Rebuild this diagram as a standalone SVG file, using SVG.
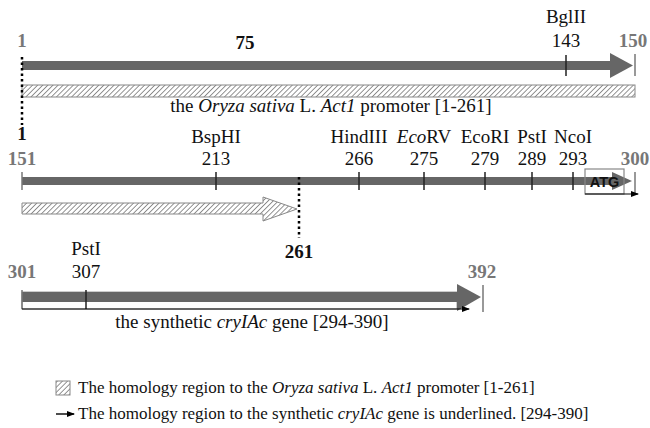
<svg xmlns="http://www.w3.org/2000/svg" width="650" height="428" viewBox="0 0 650 428">
<defs>
<pattern id="hatch" patternUnits="userSpaceOnUse" width="3.6" height="3.6" patternTransform="rotate(45)">
<rect width="3.6" height="3.6" fill="#fff"/>
<line x1="0" y1="0" x2="0" y2="3.6" stroke="#666" stroke-width="1.4"/>
</pattern>
<marker id="ah" markerWidth="8" markerHeight="6" refX="7" refY="3" orient="auto" markerUnits="userSpaceOnUse">
<path d="M0,0 L8,3 L0,6 Z" fill="#000"/>
</marker>
</defs>
<style>
text{font-family:"Liberation Serif","Times New Roman",serif;font-size:19px;fill:#111}
.c{text-anchor:middle}
.g{fill:#777;font-weight:bold}
.b{font-weight:bold}
.bar{fill:#666}
.tick{stroke:#222;stroke-width:1.5}
.gtick{stroke:#777;stroke-width:1.5}
.hat{fill:url(#hatch);stroke:#888;stroke-width:1}
.dot{stroke:#000;stroke-width:2.5;stroke-dasharray:2.5 3}
.leg{font-size:17px}
</style>
<rect width="650" height="428" fill="#fff"/>

<g id="row1">
<rect class="hat" x="22" y="85" width="613" height="12"/>
<rect class="bar" x="22" y="61" width="590" height="9"/>
<polygon class="bar" points="610,53 633,65.5 610,78"/>
<line class="gtick" x1="635" y1="54" x2="635" y2="76"/>
<line class="tick" x1="566" y1="55" x2="566" y2="76"/>
<text class="c g" x="22" y="47">1</text>
<text class="c b" x="245" y="49">75</text>
<text class="c" x="566" y="23">BglII</text>
<text class="c" x="566" y="47">143</text>
<text class="c g" x="633" y="47">150</text>
<text class="c" x="331" y="112">the <tspan font-style="italic">Oryza sativa</tspan> L. <tspan font-style="italic">Act1</tspan> promoter [1-261]</text>
<line class="dot" x1="22" y1="57" x2="22" y2="125"/>
<text class="c b" x="22" y="140">1</text>
</g>

<g id="row2">
<rect class="bar" x="22" y="177" width="592" height="8"/>
<polygon class="bar" points="612,172 632,181 612,190"/>
<line class="gtick" x1="22" y1="172" x2="22" y2="190"/>
<line class="gtick" x1="635" y1="172" x2="635" y2="193"/>
<line class="tick" x1="216" y1="172" x2="216" y2="190"/>
<line class="tick" x1="359" y1="172" x2="359" y2="190"/>
<line class="tick" x1="424" y1="172" x2="424" y2="190"/>
<line class="tick" x1="485" y1="172" x2="485" y2="190"/>
<line class="tick" x1="532" y1="172" x2="532" y2="190"/>
<line class="tick" x1="573" y1="172" x2="573" y2="190"/>
<text class="c g" x="22" y="165">151</text>
<text class="c" x="216" y="143">BspHI</text>
<text class="c" x="216" y="165">213</text>
<text class="c" x="359" y="143">HindIII</text>
<text class="c" x="359" y="165">266</text>
<text class="c" x="424" y="143"><tspan font-style="italic">Eco</tspan>RV</text>
<text class="c" x="424" y="165">275</text>
<text class="c" x="485" y="143">EcoRI</text>
<text class="c" x="485" y="165">279</text>
<text class="c" x="532" y="143">PstI</text>
<text class="c" x="532" y="165">289</text>
<text class="c" x="573" y="143">NcoI</text>
<text class="c" x="573" y="165">293</text>
<text class="c g" x="635" y="165">300</text>
<rect x="585" y="169" width="39" height="25" fill="none" stroke="#888" stroke-width="1.2"/>
<text x="604.5" y="187" text-anchor="middle" style="font-family:'Liberation Sans',Arial,sans-serif;font-weight:bold;font-size:14.5px;fill:#111">ATG</text>
<polygon class="hat" points="22,203 263,203 263,197 297,209 263,221 263,214 22,214"/>
<line class="dot" x1="299" y1="177" x2="299" y2="238"/>
<text class="c b" x="299" y="258">261</text>
</g>

<g id="row3">
<rect x="22" y="292" width="435" height="17" fill="#fff" stroke="#999" stroke-width="1"/>
<rect class="bar" x="22" y="292" width="437" height="10"/>
<polygon class="bar" points="457,284 481,297 457,311"/>
<line class="gtick" x1="22" y1="290" x2="22" y2="309"/>
<line class="gtick" x1="483" y1="285" x2="483" y2="312"/>
<line class="tick" x1="86" y1="290" x2="86" y2="309"/>
<text class="c" x="86" y="255">PstI</text>
<text class="c g" x="22" y="278">301</text>
<text class="c" x="86" y="278">307</text>
<text class="c g" x="482" y="278">392</text>
<text class="c" x="252" y="328">the synthetic <tspan font-style="italic">cryIAc</tspan> gene [294-390]</text>
</g>

<g id="connectors">
<line x1="585" y1="194" x2="638" y2="194" stroke="#000" stroke-width="1.2" marker-end="url(#ah)"/>
<line x1="22" y1="309" x2="469" y2="309" stroke="#000" stroke-width="1" marker-end="url(#ah)"/>
</g>

<g id="legend">
<rect class="hat" x="56" y="381" width="14" height="14"/>
<text class="leg" x="78" y="393">The homology region to the <tspan font-style="italic">Oryza sativa</tspan> L. <tspan font-style="italic">Act1</tspan> promoter [1-261]</text>
<line x1="56" y1="414" x2="74" y2="414" stroke="#000" stroke-width="1.4" marker-end="url(#ah)"/>
<text class="leg" x="78" y="419">The homology region to the synthetic <tspan font-style="italic">cryIAc</tspan> gene is underlined. [294-390]</text>
</g>
</svg>
